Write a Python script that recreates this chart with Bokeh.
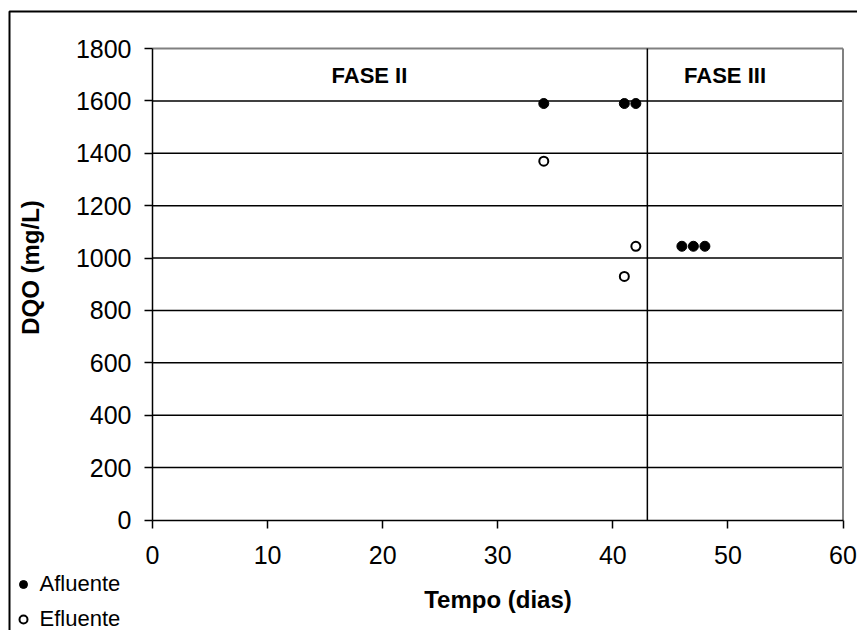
import math
from bokeh.plotting import figure
from bokeh.models import (Range1d, FixedTicker, Label, Legend, LegendItem,
                          BoxAnnotation)
from bokeh.embed import file_html
from bokeh.resources import INLINE

# ---- data ----
afluente_x = [34, 41, 42, 46, 47, 48]
afluente_y = [1590, 1590, 1590, 1045, 1045, 1045]
efluente_x = [34, 41, 42]
efluente_y = [1370, 930, 1045]
x_ticks = [0, 10, 20, 30, 40, 50, 60]
y_ticks = [0, 200, 400, 600, 800, 1000, 1200, 1400, 1600, 1800]
phase_change = 43
phase_labels = ["FASE II", "FASE III"]

FONT = "Liberation Sans"
W, H = 857, 630
# plot area placement inside the canvas (pixels)
PX_L, PX_R, PY_T, PY_B = 152.0, 842.5, 48.0, 519.5
x0, x1 = x_ticks[0], x_ticks[-1]
y0, y1 = y_ticks[0], y_ticks[-1]
sx = (PX_R - PX_L) / (x1 - x0)
sy = (PY_B - PY_T) / (y1 - y0)

p = figure(width=W, height=H, output_backend="svg", toolbar_location=None,
           x_range=Range1d(x0 - PX_L / sx, x0 + (W - PX_L) / sx),
           y_range=Range1d(y0 - (H - PY_B) / sy, y0 + PY_B / sy),
           min_border=0)

p.background_fill_color = "white"
p.border_fill_color = "white"
p.outline_line_color = None
p.xgrid.grid_line_color = None
p.ygrid.grid_line_color = None

# horizontal grid lines
grid_y = y_ticks[1:-1]
p.segment(x0=[x0] * len(grid_y), x1=[x1] * len(grid_y), y0=grid_y, y1=grid_y,
          line_color="black", line_width=1.5)
# plot-area border (top and right, gray)
p.segment(x0=[x0, x1], x1=[x1, x1], y0=[y1, y0], y1=[y1, y1],
          line_color="#808080", line_width=2)
# phase divider
p.segment(x0=[phase_change], x1=[phase_change], y0=[y0], y1=[y1],
          line_color="black", line_width=1.5)

# axes placed at the data origin
for ax in (p.xaxis[0], p.yaxis[0]):
    ax.axis_line_color = "black"
    ax.axis_line_width = 1.5
    ax.major_tick_line_color = "black"
    ax.major_tick_line_width = 1.5
    ax.major_tick_out = 8
    ax.major_tick_in = 0
    ax.minor_tick_line_color = None
    ax.major_label_text_font = FONT
    ax.major_label_text_font_size = "25px"
    ax.major_label_text_color = "black"
    ax.axis_label_text_font = FONT
    ax.axis_label_text_font_size = "24px"
    ax.axis_label_text_font_style = "bold"
    ax.axis_label_text_color = "black"

p.xaxis.fixed_location = y0
p.yaxis.fixed_location = x0
p.xaxis.bounds = (x0, x1)
p.yaxis.bounds = (y0, y1)
p.xaxis.ticker = FixedTicker(ticks=x_ticks)
p.yaxis.ticker = FixedTicker(ticks=y_ticks)
p.xaxis.axis_label = "Tempo (dias)"
p.xaxis.major_label_standoff = 18
p.yaxis.major_label_standoff = 13
p.xaxis.axis_label_standoff = 18

# y-axis title
p.add_layout(Label(x=30, y=H - 267, x_units="screen", y_units="screen",
                   text="DQO (mg/L)", angle=math.pi / 2, text_align="center",
                   text_baseline="middle", text_font=FONT,
                   text_font_size="24px", text_font_style="bold",
                   text_color="black"))

# phase labels
p.add_layout(Label(x=18.85, y=1698, text=phase_labels[0], text_align="center",
                   text_baseline="alphabetic", text_font=FONT,
                   text_font_size="22px", text_font_style="bold",
                   text_color="black"))
p.add_layout(Label(x=49.75, y=1698, text=phase_labels[1], text_align="center",
                   text_baseline="alphabetic", text_font=FONT,
                   text_font_size="22px", text_font_style="bold",
                   text_color="black"))

r_afl = p.scatter(afluente_x, afluente_y, marker="circle", size=10,
                  fill_color="black", line_color="black")
r_efl = p.scatter(efluente_x, efluente_y, marker="circle", size=9,
                  fill_color="white", line_color="black", line_width=2)

legend = Legend(items=[LegendItem(label="Afluente", renderers=[r_afl]),
                       LegendItem(label="Efluente", renderers=[r_efl])],
                location=(12.5, -2), padding=0, margin=0, spacing=9,
                glyph_width=20, glyph_height=20, label_height=20,
                label_standoff=7, label_text_font=FONT,
                label_text_font_size="22px", label_text_color="black",
                border_line_color=None, background_fill_alpha=0)
p.add_layout(legend)

# outer chart border (left and top edges visible)
p.add_layout(BoxAnnotation(left=9, right=W + 20, top=H - 11, bottom=-20,
                           left_units="screen", right_units="screen",
                           top_units="screen", bottom_units="screen",
                           fill_alpha=0, line_color="black", line_alpha=1.0,
                           line_width=2))

open("out.html", "w").write(file_html(p, INLINE))
